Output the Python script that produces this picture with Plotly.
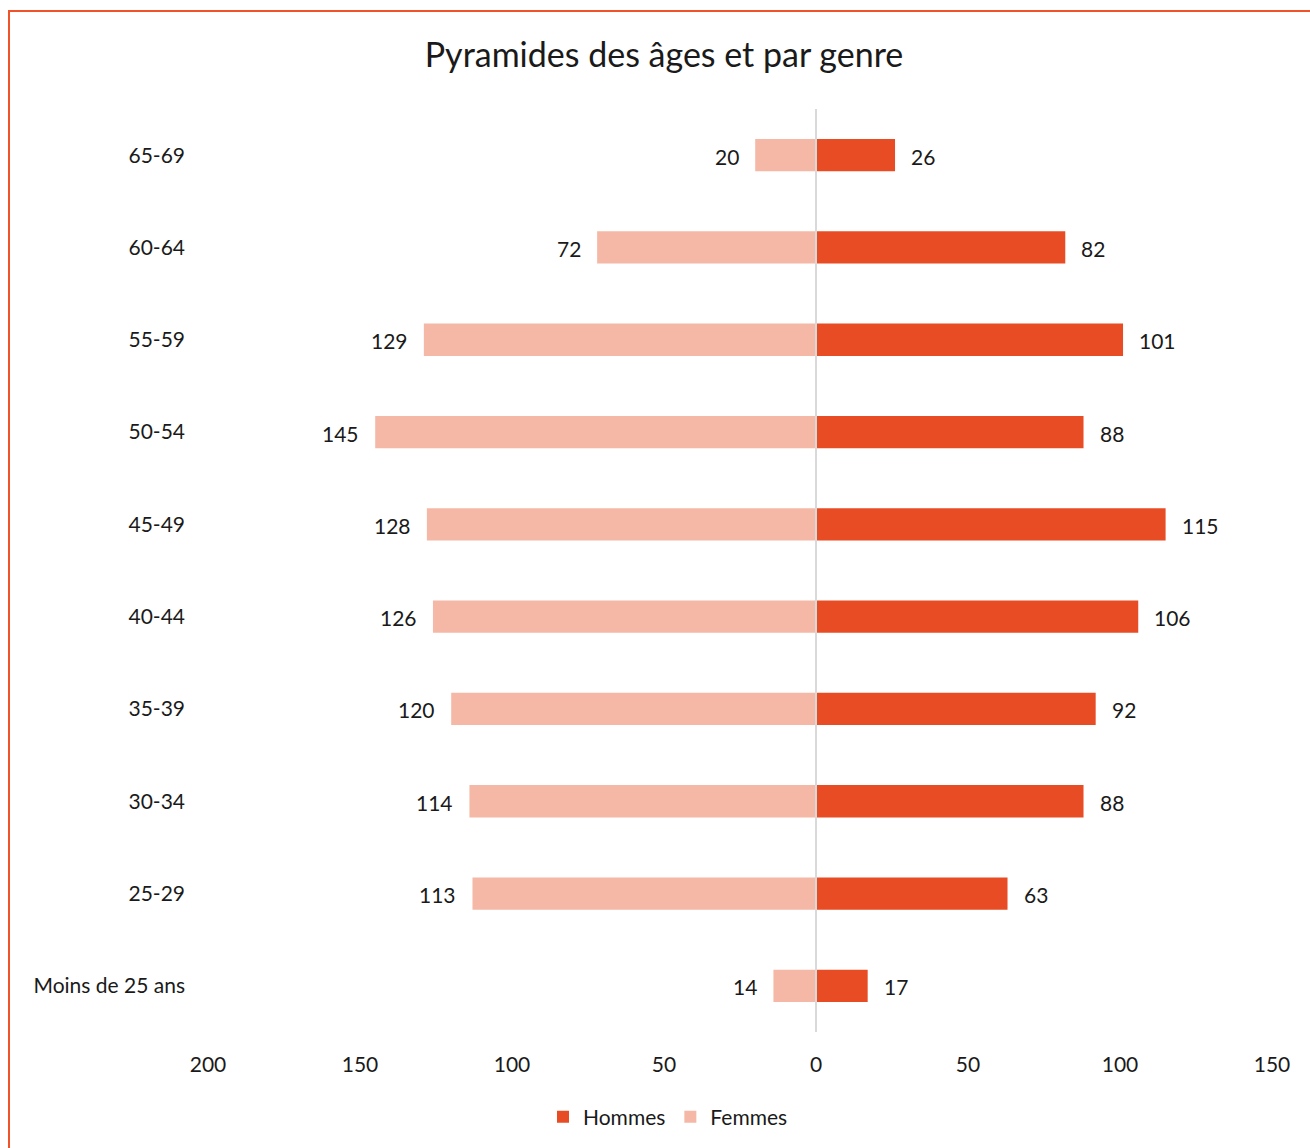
import plotly.graph_objects as go

# Age groups, bottom to top
age_groups = ["Moins de 25 ans", "25-29", "30-34", "35-39", "40-44",
              "45-49", "50-54", "55-59", "60-64", "65-69"]
hommes = [17, 63, 88, 92, 106, 115, 88, 101, 82, 26]
femmes = [14, 113, 114, 120, 126, 128, 145, 129, 72, 20]

tick_values = [-200, -150, -100, -50, 0, 50, 100, 150]
tick_labels = ["200", "150", "100", "50", "0", "50", "100", "150"]

COL_H = "#E84C25"
COL_F = "#F6B8A6"
FONT = "Lato, 'Open Sans', sans-serif"
TXT = "#1a1a1a"

fig = go.Figure()
fig.add_trace(go.Bar(
    y=age_groups, x=hommes, orientation="h", name="Hommes",
    marker=dict(color=COL_H, line=dict(width=0)), width=0.35,
))
fig.add_trace(go.Bar(
    y=age_groups, x=[-v for v in femmes], orientation="h", name="Femmes",
    marker=dict(color=COL_F, line=dict(width=0)), width=0.35,
))

# value labels placed just beyond each bar end
annotations = []
for cat, v in zip(age_groups, hommes):
    annotations.append(dict(x=v, y=cat, xref="x", yref="y", text=str(v),
                            showarrow=False, xanchor="left", xshift=14, yshift=-1,
                            font=dict(size=21, color=TXT, family=FONT)))
for cat, v in zip(age_groups, femmes):
    annotations.append(dict(x=-v, y=cat, xref="x", yref="y", text=str(v),
                            showarrow=False, xanchor="right", xshift=-14, yshift=-1,
                            font=dict(size=21, color=TXT, family=FONT)))

fig.update_layout(
    width=1310, height=1148,
    margin=dict(l=208, r=38, t=109, b=115),
    paper_bgcolor="white", plot_bgcolor="white",
    barmode="overlay",
    font=dict(family=FONT, color=TXT, size=21),
    title=dict(text="Pyramides des âges et par genre", x=664 / 1310, xanchor="center",
               y=1 - 55 / 1148, yanchor="middle", font=dict(size=34, color=TXT, family=FONT)),
    xaxis=dict(range=[-200, 150], tickvals=tick_values, ticktext=tick_labels,
               showgrid=False, zeroline=False, showline=False, ticks="",
               ticklabelstandoff=18, tickfont=dict(size=21, color=TXT)),
    yaxis=dict(showgrid=False, zeroline=False, showline=False, ticks="",
               ticklabelstandoff=22, tickfont=dict(size=21, color=TXT),
               range=[-0.5, 9.5]),
    legend=dict(orientation="h", x=(668 - 208) / 1064, xanchor="center",
                y=-(1117 - 1033) / 924, yanchor="middle",
                font=dict(size=21, color=TXT), traceorder="normal",
                itemwidth=30),
    showlegend=True,
    annotations=annotations,
    shapes=[
        dict(type="line", xref="x", yref="paper", x0=0, x1=0, y0=0, y1=1,
             line=dict(color="#D9D9D9", width=2), layer="above"),
        dict(type="line", xref="paper", yref="paper",
             x0=(9 - 208) / 1064, x1=(1320 - 208) / 1064,
             y0=(1033 - 11) / 924, y1=(1033 - 11) / 924,
             line=dict(color="#F0532A", width=2)),
        dict(type="line", xref="paper", yref="paper",
             x0=(9 - 208) / 1064, x1=(9 - 208) / 1064,
             y0=(1033 - 1160) / 924, y1=(1033 - 10) / 924,
             line=dict(color="#F0532A", width=2)),
    ],
)

fig.write_html("out.html")
